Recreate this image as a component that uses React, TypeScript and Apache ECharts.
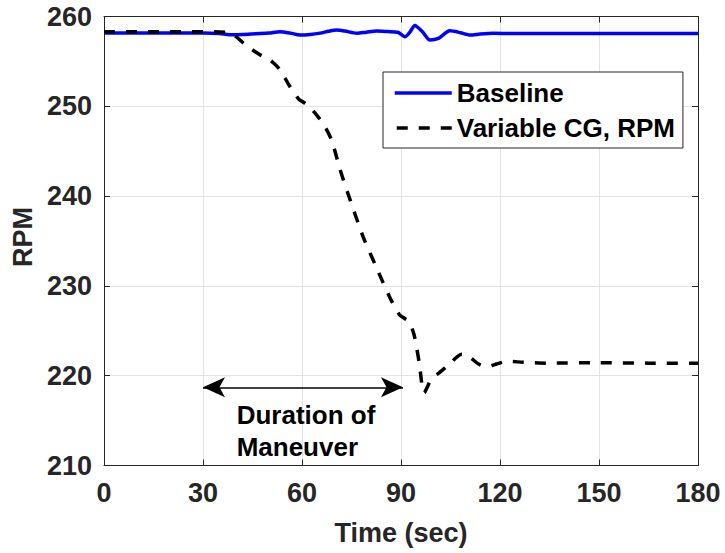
import React, { useEffect, useRef } from "react";
import * as echarts from "echarts";

const baselineTime = [0, 15, 30, 35, 38, 42, 46, 50, 53.3, 56.5, 59.4, 62.5, 65.5, 68, 70.5, 73, 76.6, 79.5, 82.6, 86, 89, 91.2, 92.7, 94.2, 96.5, 98.8, 101.5, 104.8, 108, 110.9, 114, 118, 124, 140, 160, 180];
const baselineRpm = [258.15, 258.15, 258.15, 258.1, 257.98, 258.0, 258.08, 258.15, 258.3, 258.15, 257.94, 258.0, 258.15, 258.35, 258.5, 258.38, 258.13, 258.25, 258.38, 258.32, 258.25, 257.75, 258.25, 259.0, 258.3, 257.38, 257.6, 258.4, 258.2, 257.94, 258.05, 258.13, 258.1, 258.1, 258.1, 258.1];

const variableTime = [0, 15, 30, 37, 39.5, 43, 47, 50.5, 53.5, 56, 59, 61.5, 64.5, 67, 69, 71.5, 74, 78.5, 82.5, 86.5, 89.5, 91, 92.5, 94, 95.5, 97, 99.3, 101.5, 104.4, 108.4, 111, 113.5, 116, 119, 122, 127, 134, 150, 165, 180];
const variableRpm = [258.3, 258.3, 258.3, 258.25, 257.9, 256.8, 255.8, 255.1, 254.0, 252.4, 250.8, 250.2, 249.0, 247.7, 246.2, 243.0, 240.2, 235.5, 232.1, 228.8, 226.8, 226.4, 226.0, 224.5, 221.5, 218.1, 219.7, 220.3, 221.2, 222.4, 222.0, 221.3, 221.0, 221.3, 221.6, 221.5, 221.4, 221.45, 221.4, 221.4];

const seriesNames = ["Baseline", "Variable CG, RPM"];
const xTicks = { min: 0, max: 180, interval: 30 };
const yTicks = { min: 210, max: 260, interval: 10 };
const maneuverStart = 30;
const maneuverEnd = 90.6;
const arrowLevel = 218.7;
const annotationText = "Duration of\nManeuver";
const annotationAt = [40.2, 217.4];

const FONT = "'Liberation Sans', Arial, Helvetica, sans-serif";
const AX = "#262626";
const DASH = [11, 11];

export default function App() {
  const ref = useRef<HTMLDivElement>(null);
  useEffect(() => {
    if (!ref.current) return;
    const chart = echarts.init(ref.current, undefined, { renderer: "svg" });
    const axisCommon = {
      type: "value" as const,
      axisLine: { show: true, onZero: false, lineStyle: { color: AX, width: 1 } },
      axisTick: { show: true, inside: true, length: 6, lineStyle: { color: AX } },
    };
    const option: any = {
      animation: false,
      backgroundColor: "#ffffff",
      grid: { left: 104, right: 27, top: 16.5, bottom: 87.5, containLabel: false },
      xAxis: [
        {
          ...axisCommon,
          ...xTicks,
          name: "Time (sec)",
          nameLocation: "middle",
          nameGap: 54,
          nameTextStyle: { fontSize: 27, fontWeight: "bold", color: AX, fontFamily: FONT },
          axisLabel: { fontSize: 27, fontWeight: "bold", color: AX, fontFamily: FONT, margin: 14 },
          splitLine: { show: true, lineStyle: { color: "#e3e3e3", width: 1 } },
        },
        {
          ...axisCommon,
          ...xTicks,
          position: "top",
          axisLabel: { show: false },
          splitLine: { show: false },
        },
      ],
      yAxis: [
        {
          ...axisCommon,
          ...yTicks,
          name: "RPM",
          nameLocation: "middle",
          nameGap: 68,
          nameTextStyle: { fontSize: 27, fontWeight: "bold", color: AX, fontFamily: FONT, padding: [0, 0, 0, 8] },
          axisLabel: { fontSize: 27, fontWeight: "bold", color: AX, fontFamily: FONT, margin: 12 },
          splitLine: { show: true, lineStyle: { color: "#e3e3e3", width: 1 } },
        },
        {
          ...axisCommon,
          ...yTicks,
          position: "right",
          axisLabel: { show: false },
          splitLine: { show: false },
        },
      ],
      legend: {
        orient: "vertical",
        left: 383,
        top: 72,
        padding: [8, 8, 7, 10],
        itemWidth: 57,
        itemHeight: 14,
        itemGap: 9,
        backgroundColor: "#ffffff",
        borderColor: AX,
        borderWidth: 1,
        borderRadius: 0,
        itemStyle: { opacity: 0 },
        lineStyle: { width: 3.5 },
        textStyle: { fontSize: 26, fontWeight: "bold", color: "#000", fontFamily: FONT, lineHeight: 26 },
        data: [
          { name: seriesNames[0] },
          { name: seriesNames[1], lineStyle: { width: 3.5, type: DASH, dashOffset: -2 } },
        ],
      },
      series: [
        {
          name: seriesNames[0],
          type: "line",
          symbol: "none",
          smooth: 0.25,
          data: baselineTime.map((t, i) => [t, baselineRpm[i]]),
          lineStyle: { color: "#0000ff", width: 3.5 },
          itemStyle: { color: "#0000ff" },
        },
        {
          name: seriesNames[1],
          type: "line",
          symbol: "none",
          smooth: 0.25,
          data: variableTime.map((t, i) => [t, variableRpm[i]]),
          lineStyle: { color: "#000000", width: 3.5, type: DASH },
          itemStyle: { color: "#000000" },
          markLine: {
            silent: true,
            symbol: ["arrow", "arrow"],
            symbolSize: [15, 22],
            label: { show: false },
            lineStyle: { color: "#000", width: 1.5, type: "solid" },
            data: [[{ coord: [maneuverStart, arrowLevel] }, { coord: [maneuverEnd, arrowLevel] }]],
          },
        },
      ],
    };
    chart.setOption(option);
    const p = chart.convertToPixel({ gridIndex: 0 }, annotationAt) as number[];
    chart.setOption({
      graphic: [
        {
          type: "text",
          x: p[0],
          y: p[1],
          style: {
            text: annotationText,
            fontSize: 26,
            fontWeight: "bold",
            fontFamily: FONT,
            fill: "#000",
            lineHeight: 32,
            textAlign: "left",
            textVerticalAlign: "top",
          },
        },
      ],
    });
    return () => chart.dispose();
  }, []);
  return <div ref={ref} style={{ position: "fixed", left: 0, top: 0, width: 725, height: 553 }} />;
}
